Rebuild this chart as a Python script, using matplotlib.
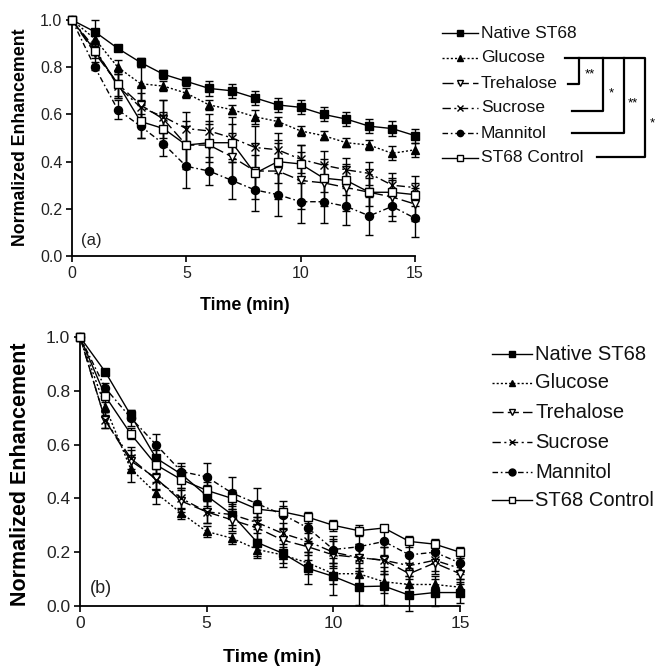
import matplotlib
matplotlib.use("Agg")
import matplotlib.pyplot as plt
from matplotlib.lines import Line2D
from matplotlib.transforms import Affine2D

plt.rcParams['font.family'] = ['Liberation Sans', 'DejaVu Sans']

# ---------------- data ----------------
time_min = list(range(16))
series_names = ["Native ST68", "Glucose", "Trehalose", "Sucrose", "Mannitol", "ST68 Control"]

# panel (a)
native_a = [1.0, 0.95, 0.88, 0.82, 0.77, 0.74, 0.71, 0.70, 0.67, 0.64, 0.63, 0.60, 0.58, 0.55, 0.54, 0.51]
glucose_a = [1.0, 0.92, 0.80, 0.73, 0.72, 0.69, 0.64, 0.62, 0.59, 0.57, 0.53, 0.51, 0.48, 0.47, 0.435, 0.45]
trehalose_a = [1.0, 0.86, 0.73, 0.64, 0.58, 0.47, 0.47, 0.42, 0.36, 0.36, 0.32, 0.31, 0.29, 0.27, 0.25, 0.22]
sucrose_a = [1.0, 0.88, 0.72, 0.63, 0.59, 0.54, 0.53, 0.50, 0.46, 0.45, 0.41, 0.385, 0.365, 0.35, 0.30, 0.29]
mannitol_a = [1.0, 0.80, 0.62, 0.55, 0.475, 0.38, 0.36, 0.32, 0.28, 0.26, 0.23, 0.23, 0.21, 0.17, 0.21, 0.16]
control_a = [1.0, 0.87, 0.73, 0.57, 0.54, 0.47, 0.48, 0.48, 0.35, 0.40, 0.39, 0.33, 0.32, 0.27, 0.27, 0.26]

native_a_err = [0, 0.05, 0.01, 0.02, 0.02, 0.02, 0.03, 0.03, 0.03, 0.03, 0.03, 0.03, 0.03, 0.03, 0.03, 0.03]
glucose_a_err = [0, 0.03, 0.03, 0.07, 0.02, 0.02, 0.02, 0.02, 0.03, 0.02, 0.02, 0.02, 0.02, 0.02, 0.03, 0.03]
trehalose_a_err = [0, 0.04, 0.06, 0.08, 0.08, 0.10, 0.10, 0.10, 0.12, 0.12, 0.12, 0.10, 0.10, 0.10, 0.08, 0.07]
sucrose_a_err = [0, 0.03, 0.05, 0.06, 0.07, 0.07, 0.07, 0.09, 0.09, 0.07, 0.06, 0.06, 0.05, 0.05, 0.05, 0.05]
mannitol_a_err = [0, 0.01, 0.04, 0.05, 0.05, 0.09, 0.06, 0.08, 0.09, 0.09, 0.09, 0.09, 0.08, 0.08, 0.06, 0.08]
control_a_err = [0, 0.03, 0.05, 0.07, 0.07, 0.08, 0.08, 0.08, 0.08, 0.09, 0.08, 0.06, 0.06, 0.06, 0.05, 0.05]

# panel (b)
native_b = [1.0, 0.87, 0.71, 0.55, 0.49, 0.41, 0.34, 0.236, 0.196, 0.14, 0.11, 0.072, 0.074, 0.04, 0.05, 0.05]
glucose_b = [1.0, 0.74, 0.51, 0.42, 0.345, 0.277, 0.252, 0.21, 0.19, 0.16, 0.12, 0.12, 0.09, 0.08, 0.08, 0.07]
trehalose_b = [1.0, 0.69, 0.54, 0.475, 0.39, 0.35, 0.32, 0.29, 0.245, 0.22, 0.19, 0.18, 0.17, 0.12, 0.16, 0.12]
sucrose_b = [1.0, 0.69, 0.55, 0.47, 0.40, 0.35, 0.34, 0.31, 0.27, 0.24, 0.20, 0.18, 0.17, 0.15, 0.17, 0.14]
mannitol_b = [1.0, 0.81, 0.70, 0.60, 0.50, 0.48, 0.42, 0.38, 0.34, 0.29, 0.21, 0.22, 0.24, 0.19, 0.20, 0.16]
control_b = [1.0, 0.78, 0.64, 0.525, 0.47, 0.43, 0.40, 0.36, 0.35, 0.33, 0.30, 0.28, 0.29, 0.24, 0.23, 0.20]

native_b_err = [0, 0.01, 0.02, 0.03, 0.03, 0.04, 0.05, 0.05, 0.05, 0.06, 0.07, 0.07, 0.07, 0.06, 0.05, 0.04]
glucose_b_err = [0, 0.03, 0.05, 0.04, 0.02, 0.02, 0.02, 0.03, 0.03, 0.04, 0.04, 0.04, 0.04, 0.03, 0.03, 0.03]
trehalose_b_err = [0, 0.03, 0.04, 0.04, 0.04, 0.04, 0.04, 0.04, 0.04, 0.05, 0.05, 0.05, 0.05, 0.04, 0.04, 0.04]
sucrose_b_err = [0, 0.03, 0.04, 0.04, 0.04, 0.04, 0.04, 0.04, 0.04, 0.05, 0.05, 0.05, 0.05, 0.04, 0.04, 0.04]
mannitol_b_err = [0, 0.02, 0.03, 0.04, 0.03, 0.05, 0.06, 0.06, 0.05, 0.05, 0.05, 0.05, 0.05, 0.05, 0.04, 0.04]
control_b_err = [0, 0.02, 0.02, 0.03, 0.03, 0.03, 0.03, 0.03, 0.02, 0.02, 0.02, 0.02, 0.01, 0.02, 0.02, 0.02]

y_ticks = [0.0, 0.2, 0.4, 0.6, 0.8, 1.0]
y_ticklabels = ["0.0", "0.2", "0.4", "0.6", "0.8", "1.0"]
x_ticks = [0, 5, 10, 15]

# ---------------- styles ----------------
styles = [
    dict(marker='s', mfc='black', ls='-'),
    dict(marker='^', mfc='black', ls=(0, (1.5, 1.5))),
    dict(marker='v', mfc='white', ls=(0, (8, 3))),
    dict(marker='x', mfc='black', ls=(0, (6, 2.5, 1.5, 2.5))),
    dict(marker='o', mfc='black', ls=(0, (4, 2, 1.2, 2))),
    dict(marker='s', mfc='white', ls='-'),
]

W, H = 656, 668
fig = plt.figure(figsize=(W / 100, H / 100), dpi=100)
pix = Affine2D().scale(1 / W, -1 / H).translate(0, 1) + fig.transFigure


def make_axes(rect_px, data, errs, tick_fs, label):
    x0, y_top, x1, y_bot = rect_px
    ax = fig.add_axes([x0 / W, 1 - y_bot / H, (x1 - x0) / W, (y_bot - y_top) / H])
    for vals, err, st in zip(data, errs, styles):
        ax.errorbar(time_min, vals, yerr=err, color='black', ecolor='black',
                    elinewidth=1.0, capsize=3.2, capthick=1.0, lw=1.0,
                    ls=st['ls'], marker=st['marker'], mfc=st['mfc'], mec='black',
                    mew=1.0, ms=5.8, clip_on=False, zorder=3)
    ax.set_xlim(0, 15)
    ax.set_ylim(0, 1.0)
    ax.set_xticks(x_ticks)
    ax.set_yticks(y_ticks)
    ax.set_yticklabels(y_ticklabels)
    for s in ['top', 'right']:
        ax.spines[s].set_visible(False)
    for s in ['left', 'bottom']:
        ax.spines[s].set_linewidth(1.3)
    ax.tick_params(direction='out', length=4, width=1.2, labelsize=tick_fs,
                   labelcolor='#222222', pad=3)
    ax.text(0.025, 0.035, label, transform=ax.transAxes, fontsize=tick_fs + 0.5,
            ha='left', va='bottom', color='#222222')
    return ax


ax_a = make_axes((72, 20, 415, 256),
                 [native_a, glucose_a, trehalose_a, sucrose_a, mannitol_a, control_a],
                 [native_a_err, glucose_a_err, trehalose_a_err, sucrose_a_err, mannitol_a_err, control_a_err],
                 11.5, "(a)")
ax_b = make_axes((80, 337, 460, 606),
                 [native_b, glucose_b, trehalose_b, sucrose_b, mannitol_b, control_b],
                 [native_b_err, glucose_b_err, trehalose_b_err, sucrose_b_err, mannitol_b_err, control_b_err],
                 12.5, "(b)")

# axis labels
fig.text(21 / W, 1 - 137 / H, "Normalized Enhancement", rotation=90, ha='center', va='center',
         fontsize=12.8, fontweight='bold')
fig.text(245 / W, 1 - 305 / H, "Time (min)", ha='center', va='center', fontsize=12.8, fontweight='bold')
fig.text(21 / W, 1 - 474 / H, "Normalized Enhancement", rotation=90, ha='center', va='center',
         fontsize=15.5, fontweight='bold')
fig.text(272 / W, 1 - 658 / H, "Time (min)", ha='center', va='center', fontsize=14, fontweight='bold')


def draw_legend(x0, x1, xt, ys, fs, ms):
    for name, st, y in zip(series_names, styles, ys):
        fig.add_artist(Line2D([x0, x1], [y, y], transform=pix, color='black', lw=1.0, ls=st['ls']))
        fig.add_artist(Line2D([(x0 + x1) / 2], [y], transform=pix, color='black', marker=st['marker'],
                              mfc=st['mfc'], mec='black', ms=ms, mew=1.0, ls='none'))
        fig.text(xt / W, 1 - y / H, name, ha='left', va='center', fontsize=fs, color='#111111')


draw_legend(442, 478, 481, [33, 58, 83, 108, 133, 158], 12.5, 4.5)
draw_legend(492, 532, 535, [354, 383, 412, 442, 472, 500], 14.5, 5)

# significance brackets (top legend)
gy, ty, sy, my, cy = 58, 84, 111, 133, 157
brackets = [
    ([565, 645, 645, 597], [gy, gy, cy, cy]),
    ([579, 579, 568], [gy, ty, ty]),
    ([603, 603, 572], [gy, sy, sy]),
    ([624, 624, 572], [gy, my, my]),
]
for xs, ys_ in brackets:
    fig.add_artist(Line2D(xs, ys_, transform=pix, color='black', lw=1.6))
for x, y, s in [(590, 74, "**"), (611, 93, "*"), (633, 103, "**"), (652, 123, "*")]:
    fig.text(x / W, 1 - y / H, s, ha='center', va='center', fontsize=9.5)

fig.savefig("out.png", dpi=100)
